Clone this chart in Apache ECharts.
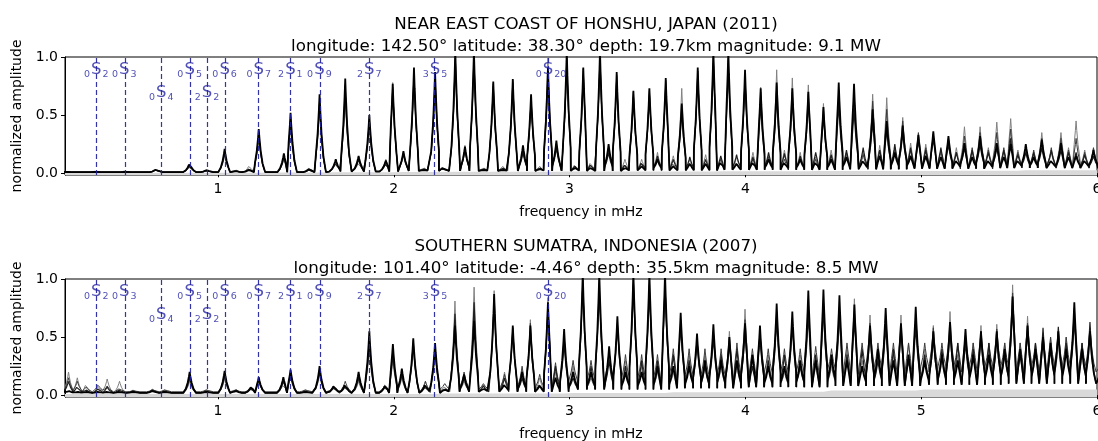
<!DOCTYPE html>
<html><head><meta charset="utf-8">
<script src="https://cdn.jsdelivr.net/npm/echarts@6/dist/echarts.min.js"></script>
<style>html,body{margin:0;padding:0;background:#fff}#c{width:1098px;height:441px}</style>
</head><body><div id="c"></div><script>
// ---------- text ----------
const titles = [
  ['NEAR EAST COAST OF HONSHU, JAPAN (2011)', 'longitude: 142.50° latitude: 38.30° depth: 19.7km magnitude: 9.1 MW'],
  ['SOUTHERN SUMATRA, INDONESIA (2007)', 'longitude: 101.40° latitude: -4.46° depth: 35.5km magnitude: 8.5 MW']
];
const xTicks = [1, 2, 3, 4, 5, 6];
const yTicks = [0, 0.5, 1.0];

// ---------- normal modes (overtone n, degree l, frequency mHz) ----------
const modeN = ['0','0','0','0','2','0','0','2','0','2','3','0'];
const modeL = ['2','3','4','5','2','6','7','1','9','7','5','20'];
const modeFreq = [0.308,0.467,0.678,0.839,0.938,1.038,1.232,1.412,1.577,1.861,2.235,2.877];
const modeLowRow = ['0S4','2S2'];

// ---------- panel 1: Honshu spectra (peak frequency, amplitudes of 4 stations, trough, min envelope) ----------
const topFreq = [0.13,0.30,0.47,0.648,0.839,0.937,1.038,1.10,1.178,1.232,
 1.375,1.413,1.52,1.578,1.67,1.724,1.80,1.861,1.955,1.994,
 2.055,2.115,2.17,2.235,2.279,2.350,2.405,2.456,2.51,2.566,
 2.62,2.677,2.735,2.781,2.83,2.877,2.925,2.984,3.03,3.078,
 3.12,3.173,3.222,3.268,3.315,3.363,3.41,3.454,3.50,3.547,
 3.59,3.638,3.684,3.729,3.774,3.818,3.86,3.903,3.95,3.998,
 4.043,4.087,4.132,4.178,4.222,4.267,4.312,4.358,4.40,4.444,
 4.488,4.531,4.575,4.618,4.67,4.724,4.764,4.804,4.85,4.895,
 4.94,4.984,5.026,5.069,5.112,5.155,5.20,5.246,5.29,5.335,
 5.382,5.430,5.47,5.509,5.55,5.595,5.64,5.686,5.74,5.795,
 5.838,5.881,5.93,5.98,6.03];
const topMain = [.012,.012,.012,.035,.09,.03,.21,.02,.03,.38,
 .17,.52,.04,.68,.12,.815,.15,.50,.11,.77,
 .19,.91,.03,.87,.05,1.05,.23,1.05,.03,.79,
 .03,.81,.24,.68,.04,.91,.28,1.05,.05,.91,
 .05,1.05,.25,.87,.05,.71,.06,.73,.12,.82,
 .06,.60,.08,.91,.08,1.05,.10,1.05,.08,.89,
 .10,.73,.12,.78,.10,.73,.12,.70,.10,.57,
 .12,.78,.14,.77,.12,.55,.15,.45,.18,.41,
 .15,.33,.15,.36,.14,.32,.12,.26,.14,.32,
 .12,.26,.14,.25,.12,.25,.14,.29,.12,.26,
 .14,.15,.12,.20,.10];
const topDark = [.015,.012,.012,.03,.07,.025,.18,.02,.04,.33,
 .14,.45,.03,.60,.10,.70,.12,.45,.09,.72,
 .17,.85,.04,.82,.04,.98,.20,1.0,.04,.75,
 .05,.78,.18,.62,.05,.85,.22,.95,.06,.85,
 .08,1.0,.18,.80,.08,.66,.10,.68,.15,.75,
 .12,.55,.14,.85,.12,.95,.15,.90,.16,.80,
 .14,.60,.18,.67,.17,.65,.15,.62,.18,.50,
 .16,.60,.20,.55,.22,.45,.20,.38,.25,.35,
 .22,.28,.20,.30,.22,.25,.18,.22,.20,.25,
 .18,.22,.20,.30,.16,.18,.18,.22,.20,.20,
 .18,.18,.16,.15,.10];
const topAlt = [.01,.01,.01,.03,.08,.02,.19,.02,.04,.35,
 .15,.48,.03,.64,.11,.76,.13,.47,.10,.74,
 .18,.88,.04,.84,.05,1.02,.21,1.02,.04,.77,
 .04,.80,.20,.66,.05,.88,.26,1.0,.06,.90,
 .07,1.02,.22,.84,.07,.70,.08,.72,.14,.80,
 .09,.58,.10,.88,.10,1.0,.12,.98,.10,.86,
 .12,.70,.14,.75,.12,.70,.14,.68,.12,.55,
 .15,.72,.18,.70,.16,.62,.20,.55,.22,.45,
 .20,.35,.22,.34,.20,.30,.18,.32,.22,.35,
 .20,.35,.22,.38,.18,.22,.20,.30,.22,.30,
 .20,.30,.18,.22,.10];
const topGray = [.02,.018,.02,.03,.06,.02,.15,.03,.07,.30,
 .12,.40,.05,.55,.09,.65,.10,.40,.12,.78,
 .15,.80,.05,.78,.04,.95,.24,.95,.05,.72,
 .06,.70,.22,.66,.06,1.0,.25,.98,.08,.88,
 .10,.95,.22,.85,.12,.68,.12,.70,.18,.78,
 .15,.73,.12,.88,.16,1.0,.12,.95,.14,.85,
 .18,.74,.15,.89,.20,.82,.18,.76,.14,.60,
 .20,.70,.16,.65,.18,.68,.24,.65,.20,.48,
 .26,.30,.25,.33,.18,.30,.22,.40,.18,.40,
 .22,.44,.18,.47,.20,.20,.16,.35,.18,.35,
 .22,.45,.20,.18,.10];
const topTrough = [.01,.01,.01,.01,.01,.01,.01,.01,.01,.01,
 .01,.01,.01,.01,.015,.015,.015,.015,.015,.015,
 .02,.02,.02,.02,.02,.02,.02,.02,.02,.02,
 .02,.02,.02,.02,.02,.02,.02,.02,.02,.02,
 .02,.02,.02,.02,.02,.025,.025,.025,.025,.025,
 .025,.025,.025,.025,.025,.025,.03,.03,.03,.03,
 .03,.03,.03,.03,.03,.03,.03,.03,.03,.03,
 .03,.03,.035,.035,.035,.035,.035,.035,.035,.035,
 .04,.04,.04,.04,.04,.04,.04,.04,.04,.04,
 .04,.045,.045,.045,.045,.045,.045,.045,.045,.045,
 .045,.045,.045,.045,.045];
const topFloor = [.004,.004,.004,.005,.005,.005,.005,.005,.005,.005,
 .006,.006,.006,.006,.008,.008,.008,.008,.008,.008,
 .01,.01,.01,.01,.01,.012,.012,.012,.012,.012,
 .012,.012,.012,.012,.012,.012,.012,.015,.015,.015,
 .015,.015,.015,.015,.015,.015,.015,.015,.015,.015,
 .015,.015,.015,.015,.015,.015,.018,.018,.018,.018,
 .018,.018,.018,.018,.018,.018,.018,.018,.02,.02,
 .02,.02,.02,.02,.02,.02,.02,.02,.02,.02,
 .02,.02,.02,.02,.02,.022,.022,.022,.022,.022,
 .022,.022,.022,.022,.022,.025,.025,.025,.025,.025,
 .025,.025,.025,.025,.025];

// ---------- panel 2: Sumatra spectra ----------
const botFreq = [0.105,0.15,0.20,0.25,0.32,0.37,0.44,0.52,0.63,0.70,
 0.839,0.937,1.038,1.10,1.19,1.232,1.372,1.413,1.50,1.578,
 1.66,1.724,1.80,1.861,1.952,1.995,2.046,2.111,2.18,2.235,
 2.29,2.348,2.40,2.457,2.51,2.571,2.63,2.677,2.73,2.777,
 2.83,2.877,2.92,2.969,3.02,3.075,3.122,3.169,3.225,3.272,
 3.318,3.363,3.41,3.454,3.50,3.543,3.59,3.632,3.68,3.725,
 3.77,3.818,3.862,3.909,3.952,3.998,4.04,4.083,4.13,4.178,
 4.222,4.267,4.312,4.358,4.40,4.444,4.49,4.535,4.578,4.620,
 4.664,4.709,4.754,4.798,4.842,4.885,4.928,4.969,5.02,5.069,
 5.118,5.164,5.208,5.252,5.296,5.34,5.385,5.43,5.475,5.520,
 5.563,5.605,5.65,5.693,5.736,5.78,5.825,5.871,5.915,5.96,6.03];
const botMain = [.05,.04,.03,.03,.03,.03,.03,.03,.04,.03,
 .20,.03,.21,.04,.08,.155,.155,.22,.03,.25,
 .09,.10,.20,.55,.09,.44,.23,.49,.10,.45,
 .05,.60,.18,.64,.06,.87,.10,.60,.20,.60,
 .08,.80,.15,.57,.20,1.05,.20,1.05,.42,.68,
 .20,1.05,.20,1.05,.25,1.05,.25,.71,.25,.53,
 .30,.61,.30,.50,.30,.62,.35,.60,.25,.79,
 .25,.72,.30,.90,.30,.91,.35,.86,.30,.78,
 .25,.60,.40,.75,.30,.62,.35,.76,.30,.55,
 .35,.63,.30,.57,.35,.55,.35,.55,.40,.85,
 .40,.60,.40,.50,.45,.55,.40,.80,.40,.55,.30];
const botDark = [.12,.12,.08,.05,.06,.07,.05,.04,.05,.04,
 .15,.04,.17,.05,.06,.13,.12,.18,.04,.20,
 .07,.08,.15,.45,.08,.35,.18,.45,.08,.40,
 .06,.70,.15,.80,.08,.80,.15,.55,.15,.55,
 .10,.75,.25,.45,.15,.95,.25,.90,.30,.60,
 .25,.95,.30,.90,.30,.95,.35,.60,.30,.45,
 .25,.50,.35,.45,.40,.55,.25,.50,.30,.65,
 .35,.60,.25,.70,.35,.75,.30,.70,.35,.65,
 .40,.55,.30,.60,.40,.55,.30,.60,.35,.50,
 .40,.55,.45,.45,.40,.50,.45,.50,.35,.75,
 .35,.55,.45,.58,.40,.59,.45,.65,.45,.63,.35];
const botAlt = [.10,.15,.12,.07,.10,.08,.06,.04,.05,.05,
 .17,.05,.19,.05,.07,.14,.14,.20,.05,.22,
 .08,.12,.18,.50,.10,.40,.20,.47,.12,.42,
 .10,.65,.20,.72,.10,.85,.18,.58,.25,.62,
 .18,.78,.28,.52,.30,1.0,.30,.95,.38,.62,
 .35,1.0,.35,.95,.35,1.0,.40,.62,.40,.48,
 .40,.55,.40,.50,.45,.65,.40,.55,.40,.72,
 .40,.65,.40,.78,.42,.82,.40,.75,.45,.72,
 .45,.62,.45,.68,.45,.60,.45,.68,.45,.58,
 .45,.62,.45,.52,.45,.55,.45,.57,.45,.88,
 .45,.62,.45,.52,.50,.55,.50,.75,.45,.58,.35];
const botGray = [.18,.20,.15,.10,.08,.14,.12,.05,.06,.05,
 .12,.05,.14,.05,.07,.12,.10,.16,.05,.18,
 .08,.09,.12,.40,.07,.30,.15,.40,.12,.35,
 .08,.81,.12,.93,.10,.90,.20,.58,.22,.65,
 .15,.84,.20,.50,.25,1.0,.15,1.0,.35,.65,
 .30,1.0,.25,1.0,.20,.90,.20,.65,.35,.50,
 .35,.55,.25,.55,.25,.74,.30,.55,.35,.70,
 .20,.65,.35,.75,.25,.70,.25,.65,.40,.83,
 .30,.69,.35,.65,.35,.69,.45,.65,.40,.60,
 .30,.72,.35,.50,.45,.60,.40,.61,.45,.95,
 .45,.68,.35,.45,.50,.45,.50,.70,.35,.50,.30];
const botTrough = [.02,.02,.02,.02,.02,.02,.02,.02,.02,.02,
 .02,.02,.02,.02,.02,.02,.02,.02,.02,.02,
 .02,.02,.02,.02,.02,.02,.02,.02,.02,.02,
 .03,.03,.03,.03,.03,.03,.03,.03,.03,.03,
 .03,.03,.03,.03,.05,.05,.05,.05,.05,.05,
 .05,.05,.05,.05,.05,.05,.06,.06,.06,.06,
 .06,.06,.06,.06,.06,.07,.07,.07,.07,.07,
 .07,.07,.07,.07,.07,.07,.08,.08,.08,.08,
 .08,.08,.08,.08,.08,.08,.08,.08,.09,.09,
 .09,.09,.09,.09,.09,.09,.09,.09,.1,.1,
 .1,.1,.1,.1,.1,.1,.1,.1,.1,.1,.1];
const botAltTrough = [.03,.03,.03,.03,.03,.03,.03,.03,.03,.03,
 .03,.03,.03,.03,.03,.03,.03,.03,.03,.03,
 .03,.03,.03,.03,.03,.03,.03,.03,.03,.03,
 .05,.05,.05,.05,.05,.05,.05,.05,.05,.05,
 .05,.05,.05,.05,.10,.10,.10,.10,.10,.10,
 .10,.10,.10,.10,.10,.10,.12,.12,.12,.12,
 .12,.12,.12,.12,.12,.15,.15,.15,.15,.15,
 .15,.15,.15,.15,.15,.15,.18,.18,.18,.18,
 .18,.18,.18,.18,.18,.18,.18,.18,.2,.2,
 .2,.2,.2,.2,.2,.2,.2,.2,.2,.2,
 .2,.2,.2,.2,.2,.2,.2,.2,.2,.2,.2];
const botFloor = [.01,.01,.01,.01,.01,.01,.01,.01,.01,.01,
 .01,.01,.01,.01,.01,.01,.01,.01,.01,.01,
 .01,.01,.01,.01,.01,.01,.01,.01,.01,.01,
 .015,.015,.015,.015,.015,.015,.015,.015,.015,.015,
 .015,.015,.015,.015,.02,.02,.02,.02,.02,.02,
 .02,.02,.02,.02,.02,.02,.025,.025,.025,.025,
 .025,.025,.025,.025,.025,.03,.03,.03,.03,.03,
 .03,.03,.03,.03,.03,.03,.04,.04,.04,.04,
 .04,.04,.04,.04,.04,.04,.04,.04,.05,.05,
 .05,.05,.05,.05,.05,.05,.05,.05,.05,.05,
 .05,.05,.05,.05,.05,.05,.05,.05,.05,.05,.05];

// ---------- rendering ----------
const FONT = 'DejaVu Sans';
// drawn peak shape (style): offsets in units of GAMMA and fraction of peak height above trough
const GAMMA = 0.011;
const PROFILE_X = [0.35, 1, 2, 3.3];
const PROFILE_Y = [0.8, 0.5, 0.2, 0];
function side(f, a, t, half, dir) {
  const pts = [];
  for (let k = 0; k < PROFILE_X.length; k++) {
    const d = PROFILE_X[k] * GAMMA;
    if (d >= half) { pts.push([f + dir * half, t]); break; }
    pts.push([f + dir * d, t + PROFILE_Y[k] * (a - t)]);
  }
  return pts;
}
function buildTrace(freq, amp, trough) {
  const out = [];
  for (let i = 0; i < freq.length; i++) {
    const f = freq[i], a = amp[i], t = trough[i];
    const hl = i > 0 ? (f - freq[i - 1]) / 2 : 1;
    const hr = i < freq.length - 1 ? (freq[i + 1] - f) / 2 : 1;
    out.push(...side(f, a, t, hl, -1).reverse(), [f, a], ...side(f, a, t, hr, 1));
  }
  return out;
}
function buildFloor(freq, floor) { return freq.map((f, i) => [f, floor[i]]); }

const panels = [
  {freq: topFreq, main: topMain, dark: topDark, alt: topAlt, gray: topGray, trough: topTrough, altTrough: topTrough, floor: topFloor, top: 57, titleTop: 9},
  {freq: botFreq, main: botMain, dark: botDark, alt: botAlt, gray: botGray, trough: botTrough, altTrough: botAltTrough, floor: botFloor, top: 279, titleTop: 231}
];
const GRID_H = 118;
const modeColor = '#2424a4';

const option = {
  animation: false,
  backgroundColor: '#fff',
  title: panels.map((p, i) => ({
    text: titles[i].join('\n'), left: 581, top: p.titleTop, textAlign: 'center',
    textStyle: {fontFamily: FONT, fontSize: 16.7, fontWeight: 'normal', color: '#000', lineHeight: 22}
  })),
  grid: panels.map(p => ({left: 65, right: 1, top: p.top, height: GRID_H, show: true, borderColor: '#000', borderWidth: 1,
    containLabel: false, outerBoundsMode: 'none'})),
  xAxis: panels.map((p, i) => ({
    type: 'value', gridIndex: i, min: 0.13, max: 6.0,
    axisLine: {show: true, lineStyle: {color: '#000', width: 1}},
    axisTick: {show: true, length: 4, lineStyle: {color: '#000'}, customValues: xTicks},
    axisLabel: {fontFamily: FONT, fontSize: 14, color: '#000', margin: 7, customValues: xTicks, formatter: v => String(v),
      showMinLabel: true, showMaxLabel: true},
    splitLine: {show: false},
    name: 'frequency in mHz', nameLocation: 'middle', nameGap: 30,
    nameTextStyle: {fontFamily: FONT, fontSize: 14, color: '#000'}
  })),
  yAxis: panels.map((p, i) => ({
    type: 'value', gridIndex: i, min: -0.015, max: 1.0,
    axisLine: {show: true, lineStyle: {color: '#000', width: 1}},
    axisTick: {show: true, length: 4, lineStyle: {color: '#000'}, customValues: yTicks},
    axisLabel: {fontFamily: FONT, fontSize: 14, color: '#000', margin: 7, customValues: yTicks, formatter: v => v.toFixed(1)},
    splitLine: {show: false},
    name: 'normalized amplitude', nameLocation: 'middle', nameGap: 38,
    nameTextStyle: {fontFamily: FONT, fontSize: 14, color: '#000'}
  })),
  series: []
};

panels.forEach((p, i) => {
  const common = {type: 'line', xAxisIndex: i, yAxisIndex: i, symbol: 'none', silent: true, clip: true};
  option.series.push(Object.assign({}, common, {
    data: buildFloor(p.freq, p.floor), lineStyle: {width: 0},
    areaStyle: {color: '#d9d9d9', opacity: 1, origin: 'start'}, z: 1
  }));
  option.series.push(Object.assign({}, common, {
    data: buildTrace(p.freq, p.gray, p.trough), lineStyle: {color: '#808080', width: 1.0}, z: 2
  }));
  option.series.push(Object.assign({}, common, {
    data: buildTrace(p.freq, p.alt, p.altTrough), lineStyle: {color: '#3c3c3c', width: 1.0}, z: 3
  }));
  option.series.push(Object.assign({}, common, {
    data: buildTrace(p.freq, p.dark, p.trough), lineStyle: {color: '#1e1e1e', width: 1.2}, z: 3
  }));
  option.series.push(Object.assign({}, common, {
    data: buildTrace(p.freq, p.main, p.trough), lineStyle: {color: '#000', width: 1.8}, z: 4
  }));
  option.series.push({
    type: 'scatter', xAxisIndex: i, yAxisIndex: i, symbolSize: 1, silent: true, z: 6,
    itemStyle: {color: 'rgba(0,0,0,0)'},
    data: modeFreq.map((f, k) => ({
      value: [f, modeLowRow.includes(modeN[k] + 'S' + modeL[k]) ? 0.693 : 0.888],
      n: modeN[k], l: modeL[k],
      label: {offset: [(modeL[k].length - modeN[k].length) * 3, 0]}
    })),
    label: {
      show: true, position: 'inside',
      formatter: q => '{pre|' + q.data.n + '}{s|S}{post|' + q.data.l + '}',
      rich: {
        pre: {fontFamily: FONT, fontSize: 9.5, color: modeColor, lineHeight: 12, verticalAlign: 'bottom', padding: [0, 1, 0, 0]},
        s: {fontFamily: FONT, fontSize: 16.5, color: modeColor, lineHeight: 20, verticalAlign: 'middle'},
        post: {fontFamily: FONT, fontSize: 9.5, color: modeColor, lineHeight: 12, verticalAlign: 'bottom', padding: [0, 0, 0, 1]}
      }
    },
    markLine: {
      silent: true, symbol: 'none', label: {show: false}, animation: false,
      lineStyle: {color: '#1e1e9c', type: [5, 3], width: 1.2, opacity: 0.9},
      emphasis: {disabled: true},
      data: modeFreq.map(f => ({xAxis: f}))
    }
  });
});

const chart = echarts.init(document.getElementById('c'), null, {renderer: 'canvas'});
chart.setOption(option);
</script></body></html>
